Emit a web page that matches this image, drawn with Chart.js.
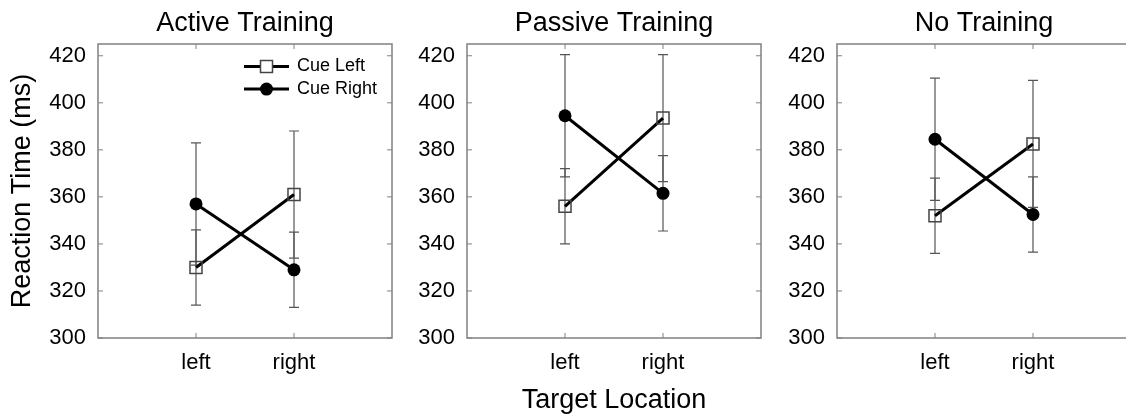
<!DOCTYPE html>
<html>
<head>
<meta charset="utf-8">
<script src="https://cdn.jsdelivr.net/npm/chart.js@4.4.1/dist/chart.umd.min.js"></script>
<style>
  html, body { margin: 0; padding: 0; background: #fff; }
  #wrap { position: relative; width: 1126px; height: 417px; overflow: hidden; }
  #wrap canvas { position: absolute; top: 0; }
</style>
</head>
<body>
<div id="wrap">
  <canvas id="c1" width="490" height="417" style="left:0px"></canvas>
  <canvas id="c2" width="414" height="417" style="left:407px"></canvas>
  <canvas id="c3" width="414" height="417" style="left:777px"></canvas>
</div>
<script>
// data
const categories = ['left', 'right'];
const yTicks = [300, 320, 340, 360, 380, 400, 420];
const seriesNames = ['Cue Left', 'Cue Right'];

const activeCueLeft = [330, 361];
const activeCueRight = [357, 329];
const activeCueLeftErr = [16, 27];
const activeCueRightErr = [26, 16];

const passiveCueLeft = [356, 393.5];
const passiveCueRight = [394.5, 361.5];
const passiveCueLeftErr = [16, 27];
const passiveCueRightErr = [26, 16];

const noneCueLeft = [352, 382.5];
const noneCueRight = [384.5, 352.5];
const noneCueLeftErr = [16, 27];
const noneCueRightErr = [26, 16];

Chart.defaults.font.family = "'Liberation Sans', Arial, sans-serif";
Chart.defaults.color = '#000';

const AXIS_GREY = '#808080';

// box round the plot with inward ticks on every side
const boxPlugin = {
  id: 'box',
  afterDatasetsDraw(chart) {
    const { ctx, chartArea: a, scales } = chart;
    ctx.save();
    ctx.strokeStyle = AXIS_GREY;
    ctx.lineWidth = 1.5;
    ctx.strokeRect(a.left, a.top, a.right - a.left, a.bottom - a.top);
    ctx.lineWidth = 1;
    ctx.beginPath();
    yTicks.forEach(v => {
      const y = scales.y.getPixelForValue(v);
      ctx.moveTo(a.left, y); ctx.lineTo(a.left + 5, y);
      ctx.moveTo(a.right, y); ctx.lineTo(a.right - 5, y);
    });
    categories.forEach((c, i) => {
      const x = scales.x.getPixelForValue(i + 1);
      ctx.moveTo(x, a.bottom); ctx.lineTo(x, a.bottom - 5);
      ctx.moveTo(x, a.top); ctx.lineTo(x, a.top + 5);
    });
    ctx.stroke();
    ctx.restore();
  }
};

// error bars, drawn under the lines and markers
const errorBarPlugin = {
  id: 'errorBars',
  beforeDatasetsDraw(chart) {
    const { ctx, scales } = chart;
    ctx.save();
    ctx.strokeStyle = '#555';
    ctx.lineWidth = 1.2;
    chart.data.datasets.forEach(ds => {
      ds.data.forEach((p, j) => {
        const e = ds.errors[j];
        const x = scales.x.getPixelForValue(p.x);
        const yt = scales.y.getPixelForValue(p.y + e);
        const yb = scales.y.getPixelForValue(p.y - e);
        ctx.beginPath();
        ctx.moveTo(x, yt); ctx.lineTo(x, yb);
        ctx.moveTo(x - 5, yt); ctx.lineTo(x + 5, yt);
        ctx.moveTo(x - 5, yb); ctx.lineTo(x + 5, yb);
        ctx.stroke();
      });
    });
    ctx.restore();
  }
};

// legend inside the first panel, top right corner
const insideLegend = {
  id: 'insideLegend',
  afterDraw(chart, args, opts) {
    if (!opts.show) return;
    const { ctx, chartArea: a } = chart;
    ctx.save();
    chart.data.datasets.forEach((ds, i) => {
      const y = a.top + 22.5 + i * 22.6;
      const x0 = a.right - 148, x1 = a.right - 103;
      ctx.strokeStyle = '#000';
      ctx.lineWidth = 3;
      ctx.beginPath(); ctx.moveTo(x0, y); ctx.lineTo(x1, y); ctx.stroke();
      const cx = (x0 + x1) / 2;
      if (ds.pointStyle === 'rect') {
        ctx.fillStyle = '#fff';
        ctx.fillRect(cx - 6, y - 6, 12, 12);
        ctx.strokeStyle = '#444';
        ctx.lineWidth = 1.5;
        ctx.strokeRect(cx - 6, y - 6, 12, 12);
      } else {
        ctx.fillStyle = '#000';
        ctx.beginPath(); ctx.arc(cx, y, 6.5, 0, Math.PI * 2); ctx.fill();
      }
      ctx.fillStyle = '#000';
      ctx.font = "18px 'Liberation Sans', Arial, sans-serif";
      ctx.textAlign = 'left';
      ctx.textBaseline = 'middle';
      ctx.fillText(ds.label, a.right - 95, y);
    });
    ctx.restore();
  }
};

function makeDatasets(cueLeft, cueRight, cueLeftErr, cueRightErr) {
  return [
    {
      label: seriesNames[0],
      data: cueLeft.map((v, i) => ({ x: i + 1, y: v })),
      errors: cueLeftErr,
      borderColor: '#000',
      borderWidth: 3,
      pointStyle: 'rect',
      pointRadius: 8.5,
      pointBorderColor: '#444',
      pointBorderWidth: 1.5,
      pointBackgroundColor: 'rgba(0,0,0,0)'
    },
    {
      label: seriesNames[1],
      data: cueRight.map((v, i) => ({ x: i + 1, y: v })),
      errors: cueRightErr,
      borderColor: '#000',
      borderWidth: 3,
      pointStyle: 'circle',
      pointRadius: 6.5,
      pointBorderWidth: 0,
      pointBackgroundColor: '#000'
    }
  ];
}

function makePanel(id, title, datasets, yWidth, showYTitle, showXTitle, showLegend) {
  return new Chart(document.getElementById(id), {
    type: 'line',
    data: { datasets: datasets },
    plugins: [errorBarPlugin, boxPlugin, insideLegend],
    options: {
      responsive: false,
      animation: false,
      events: [],
      layout: { padding: { left: 0, right: yWidth, top: 0, bottom: 0 } },
      plugins: {
        legend: { display: false },
        tooltip: { enabled: false },
        title: {
          display: true,
          fullSize: false,
          text: title,
          font: { size: 27, weight: 'normal' },
          color: '#000',
          padding: { top: 7.4, bottom: 4.2 }
        },
        insideLegend: { show: showLegend }
      },
      scales: {
        x: {
          type: 'linear',
          min: 0,
          max: 3,
          grid: { display: false, drawTicks: false },
          border: { display: false },
          afterBuildTicks: s => { s.ticks = categories.map((c, i) => ({ value: i + 1 })); },
          afterFit: s => { s.height = 79; },
          ticks: {
            font: { size: 22 },
            color: '#000',
            padding: 12,
            maxRotation: 0,
            callback: v => categories[v - 1]
          },
          title: {
            display: showXTitle,
            text: 'Target Location',
            font: { size: 27 },
            color: '#000',
            padding: { top: 0, bottom: 0.5 }
          }
        },
        y: {
          min: 300,
          max: 425,
          grid: { display: false, drawTicks: false },
          border: { display: false },
          afterBuildTicks: s => { s.ticks = yTicks.map(v => ({ value: v })); },
          afterFit: s => { s.width = yWidth; },
          ticks: {
            font: { size: 22 },
            color: '#000',
            padding: 12,
            callback: v => String(v)
          },
          title: {
            display: showYTitle,
            text: 'Reaction Time (ms)',
            font: { size: 27 },
            color: '#000',
            padding: { top: 6.7, bottom: 0 }
          }
        }
      }
    }
  });
}

makePanel('c1', 'Active Training',
  makeDatasets(activeCueLeft, activeCueRight, activeCueLeftErr, activeCueRightErr),
  98, true, false, true);
makePanel('c2', 'Passive Training',
  makeDatasets(passiveCueLeft, passiveCueRight, passiveCueLeftErr, passiveCueRightErr),
  60, false, true, false);
makePanel('c3', 'No Training',
  makeDatasets(noneCueLeft, noneCueRight, noneCueLeftErr, noneCueRightErr),
  60, false, false, false);
</script>
</body>
</html>
